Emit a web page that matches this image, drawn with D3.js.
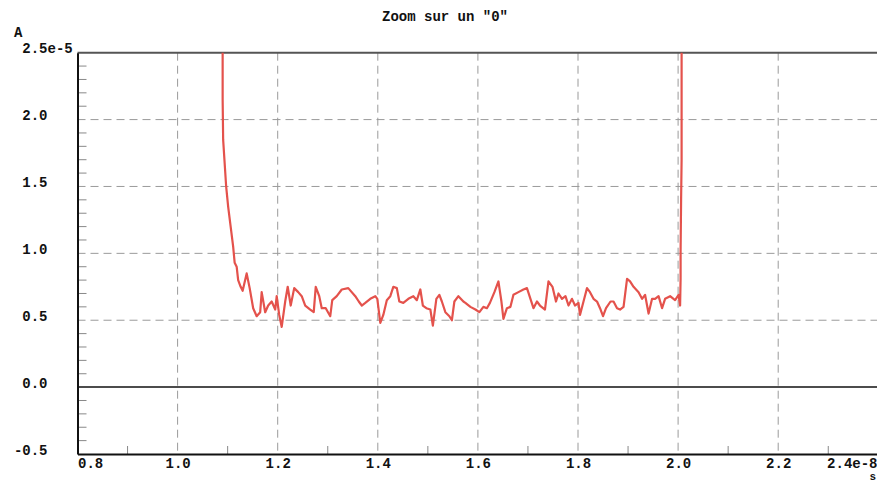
<!DOCTYPE html>
<html>
<head>
<meta charset="utf-8">
<script src="https://cdn.jsdelivr.net/npm/d3@7"></script>
<style>
  body { margin: 0; background: #fff; }
  svg text { font-family: "Liberation Mono", "DejaVu Sans Mono", monospace; font-weight: bold; font-size: 14px; fill: #111; }
</style>
</head>
<body>
<svg id="chart" width="877" height="484"></svg>
<script>
'use strict';

// time in units of 1e-8 s, current in units of 1e-5 A
var time = [1.088, 1.090, 1.090, 1.091, 1.097, 1.101, 1.106, 1.111, 1.114, 1.118,
  1.121, 1.126, 1.130, 1.138, 1.144, 1.151, 1.158, 1.165, 1.168, 1.175,
  1.181, 1.188, 1.195, 1.198, 1.203, 1.208, 1.215, 1.220, 1.226, 1.233,
  1.241, 1.248, 1.255, 1.265, 1.272, 1.276, 1.283, 1.288, 1.296, 1.305,
  1.309, 1.318, 1.328, 1.341, 1.355, 1.362, 1.368, 1.375, 1.385, 1.395,
  1.399, 1.405, 1.411, 1.418, 1.425, 1.431, 1.438, 1.443, 1.451, 1.461,
  1.471, 1.478, 1.485, 1.490, 1.497, 1.505, 1.510, 1.517, 1.523, 1.528,
  1.535, 1.543, 1.548, 1.553, 1.561, 1.571, 1.575, 1.585, 1.595, 1.603,
  1.611, 1.618, 1.624, 1.633, 1.641, 1.647, 1.651, 1.658, 1.665, 1.671,
  1.681, 1.691, 1.698, 1.705, 1.711, 1.718, 1.724, 1.734, 1.741, 1.749,
  1.756, 1.761, 1.768, 1.775, 1.781, 1.788, 1.794, 1.801, 1.804, 1.811,
  1.818, 1.824, 1.831, 1.838, 1.844, 1.850, 1.856, 1.865, 1.871, 1.878,
  1.884, 1.891, 1.898, 1.904, 1.911, 1.921, 1.928, 1.934, 1.941, 1.948,
  1.954, 1.961, 1.968, 1.974, 1.984, 1.994, 2.001, 2.004, 2.005, 2.005,
  2.006, 2.007, 2.007, 2.007];
var current = [2.70, 2.50, 2.15, 1.85, 1.50, 1.35, 1.20, 1.05, 0.93, 0.90,
  0.80, 0.75, 0.72, 0.85, 0.74, 0.59, 0.53, 0.56, 0.71, 0.56,
  0.61, 0.64, 0.58, 0.68, 0.54, 0.45, 0.64, 0.75, 0.61, 0.74,
  0.71, 0.68, 0.61, 0.58, 0.56, 0.75, 0.68, 0.59, 0.59, 0.53,
  0.65, 0.68, 0.73, 0.74, 0.68, 0.64, 0.61, 0.63, 0.66, 0.68,
  0.66, 0.48, 0.54, 0.65, 0.68, 0.75, 0.74, 0.64, 0.63, 0.66,
  0.68, 0.65, 0.73, 0.61, 0.59, 0.58, 0.46, 0.66, 0.69, 0.64,
  0.56, 0.53, 0.50, 0.64, 0.68, 0.64, 0.63, 0.60, 0.58, 0.56,
  0.60, 0.59, 0.63, 0.71, 0.79, 0.64, 0.51, 0.59, 0.60, 0.69,
  0.71, 0.73, 0.74, 0.66, 0.59, 0.64, 0.61, 0.58, 0.79, 0.75,
  0.64, 0.70, 0.66, 0.68, 0.61, 0.66, 0.61, 0.63, 0.54, 0.64,
  0.74, 0.71, 0.66, 0.64, 0.59, 0.53, 0.59, 0.64, 0.64, 0.59,
  0.58, 0.60, 0.81, 0.79, 0.75, 0.71, 0.66, 0.69, 0.55, 0.66,
  0.66, 0.68, 0.59, 0.66, 0.68, 0.65, 0.69, 0.61, 0.81, 1.02,
  1.40, 1.70, 2.50, 2.70];

var xTicks = [0.8, 1.0, 1.2, 1.4, 1.6, 1.8, 2.0, 2.2, 2.4];
var xTickLabels = ["0.8", "1.0", "1.2", "1.4", "1.6", "1.8", "2.0", "2.2", "2.4e-8"];
var xGrid = [1.0, 1.2, 1.4, 1.6, 1.8, 2.0, 2.2];
var xMinor = [0.9, 1.1, 1.3, 1.5, 1.7, 1.9, 2.1, 2.3];
var yTicks = [-0.5, 0.0, 0.5, 1.0, 1.5, 2.0, 2.5];
var yTickLabels = ["-0.5", "0.0", "0.5", "1.0", "1.5", "2.0", "2.5"];
var yGrid = [0.5, 1.0, 1.5, 2.0];
var yMinor = [-0.4, -0.3, -0.2, -0.1, 0.1, 0.2, 0.3, 0.4, 0.6, 0.7, 0.8, 0.9,
  1.1, 1.2, 1.3, 1.4, 1.6, 1.7, 1.8, 1.9, 2.1, 2.2, 2.3, 2.4];

var svg = d3.select("#chart");
var pLeft = 77.5, pRight = 878.3, pTop = 52.7, pBottom = 454;

var x = d3.scaleLinear().domain([0.8, 2.4]).range([pLeft, pRight]);
var y = d3.scaleLinear().domain([-0.5, 2.5]).range([pBottom, pTop]);

svg.append("defs").append("clipPath").attr("id", "plot")
  .append("rect").attr("x", pLeft).attr("y", pTop)
  .attr("width", pRight - pLeft).attr("height", pBottom - pTop);

// dashed grid
svg.append("g").selectAll("line").data(yGrid).enter().append("line")
  .attr("x1", pLeft).attr("x2", 877)
  .attr("y1", function(d){ return y(d); }).attr("y2", function(d){ return y(d); })
  .attr("stroke", "#9a9a9a").attr("stroke-width", 1).attr("stroke-dasharray", "8,5");
svg.append("g").selectAll("line").data(xGrid).enter().append("line")
  .attr("x1", function(d){ return x(d); }).attr("x2", function(d){ return x(d); })
  .attr("y1", pTop).attr("y2", pBottom)
  .attr("stroke", "#9a9a9a").attr("stroke-width", 1).attr("stroke-dasharray", "8,5");

// minor ticks
svg.append("g").selectAll("line").data(yMinor).enter().append("line")
  .attr("x1", pLeft).attr("x2", pLeft + 9)
  .attr("y1", function(d){ return y(d); }).attr("y2", function(d){ return y(d); })
  .attr("stroke", "#888").attr("stroke-width", 1);
svg.append("g").selectAll("line").data(xMinor).enter().append("line")
  .attr("x1", function(d){ return x(d); }).attr("x2", function(d){ return x(d); })
  .attr("y1", pBottom).attr("y2", pBottom - 8)
  .attr("stroke", "#888").attr("stroke-width", 1);

// zero line and top frame
svg.append("line").attr("x1", pLeft).attr("x2", 877)
  .attr("y1", y(0)).attr("y2", y(0)).attr("stroke", "#111").attr("stroke-width", 1.5);
svg.append("line").attr("x1", pLeft).attr("x2", 877)
  .attr("y1", pTop).attr("y2", pTop).attr("stroke", "#555").attr("stroke-width", 2);

// curve
var pts = d3.zip(time, current);
svg.append("path").datum(pts)
  .attr("clip-path", "url(#plot)")
  .attr("fill", "none").attr("stroke", "#e4524c").attr("stroke-width", 2.2)
  .attr("stroke-linejoin", "round")
  .attr("d", d3.line().x(function(d){ return x(d[0]); }).y(function(d){ return y(d[1]); }));

// axes
var yAxis = svg.append("g").attr("transform", "translate(" + pLeft + ",0)")
  .call(d3.axisLeft(y).tickValues(yTicks).tickSize(0).tickPadding(30)
    .tickFormat(function(d, i){ return yTickLabels[i]; }));
yAxis.select(".domain").attr("stroke", "#111").attr("stroke-width", 2);
yAxis.selectAll("text").attr("dy", "0").attr("font-family", null).attr("font-size", null).attr("fill", null);
yAxis.selectAll(".tick").filter(function(d){ return d === 2.5; }).append("text")
  .attr("x", -30).attr("text-anchor", "start").text("e-5");

var xAxis = svg.append("g").attr("transform", "translate(0," + pBottom + ")")
  .call(d3.axisBottom(x).tickValues(xTicks).tickSize(0).tickPadding(0)
    .tickFormat(function(d, i){ return xTickLabels[i]; }));
xAxis.select(".domain").attr("stroke", "#111").attr("stroke-width", 2);
xAxis.selectAll("text").attr("y", 14).attr("dy", "0")
  .attr("font-family", null).attr("font-size", null).attr("fill", null)
  .attr("text-anchor", function(d, i){ return i === 0 ? "start" : (i === xTicks.length - 1 ? "end" : "middle"); })
  .attr("dx", function(d, i){ return i === xTicks.length - 1 ? (877 - x(d)) + "px" : 0; });
svg.selectAll(".domain").attr("fill", "none");

// titles
svg.append("text").attr("x", 445).attr("y", 21).attr("text-anchor", "middle").text('Zoom sur un "0"');
svg.append("text").attr("x", 14).attr("y", 37).text("A");
svg.append("text").attr("x", 876).attr("y", 480).attr("text-anchor", "end")
  .style("font-size", "11px").text("s");
</script>
</body>
</html>
